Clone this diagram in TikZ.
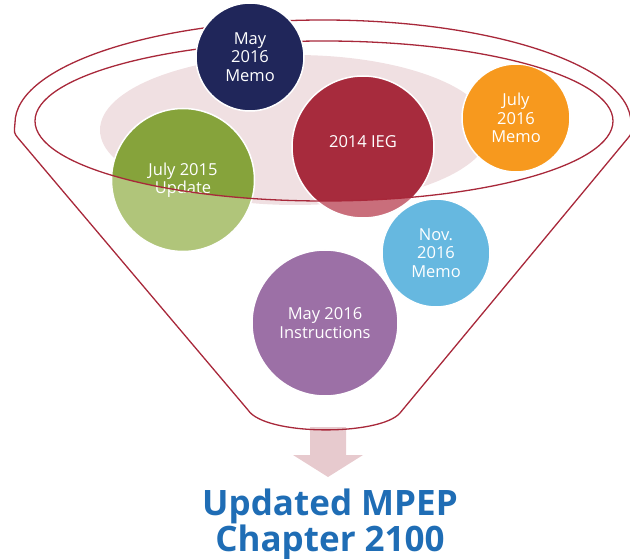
\documentclass[tikz,border=0pt]{standalone}
\usepackage{fontspec}
\setmainfont{Open Sans}
\usetikzlibrary{positioning}
\definecolor{funnelred}{HTML}{A8283A}
\definecolor{memonavy}{HTML}{20265A}
\definecolor{iegred}{HTML}{A72B3D}
\definecolor{iegredlight}{HTML}{C96E7B}
\definecolor{memoorange}{HTML}{F7991E}
\definecolor{updgreen}{HTML}{86A33B}
\definecolor{updgreenlight}{HTML}{B0C57A}
\definecolor{novblue}{HTML}{66B8E0}
\definecolor{instpurple}{HTML}{9C70A6}
\definecolor{blush}{HTML}{F0E0E2}
\definecolor{arrowpink}{HTML}{E7CACE}
\definecolor{titleblue}{HTML}{1F6DB5}
\tikzset{
bubble/.style={circle, draw=white, line width=1.5pt, inner sep=0pt, align=center, text=white, font=\fontsize{16.5}{18.5}\selectfont}, % sets the look of each round item
rim/.style={draw=funnelred, line width=1.3pt}, % the funnel and its ring
inring/.style={path picture={\fill[#1] (ringc) ellipse [x radius=289pt, y radius=80pt];}}, % darker part inside the ring
}

\begin{document}
\begin{tikzpicture}[x=1pt, y=-1pt]
\useasboundingbox (0,0) rectangle (630,559);
\coordinate (ringc) at (324,121);
\fill[blush] (295,130) ellipse [x radius=195, y radius=75];

\node[bubble, fill=updgreenlight, inring=updgreen, minimum size=143] (jul15) at (183,180) {July 2015\\Update};
\node[bubble, fill=iegredlight, inring=iegred, minimum size=142] (ieg) at (363,147) {\raisebox{11pt}{2014 IEG}};
\node[bubble, fill=memoorange, minimum size=108] (jul16) at (516,118) {July\\2016\\Memo};
\node[bubble, fill=novblue, minimum size=108] (nov16) at (436,253) {Nov.\\2016\\Memo};
\node[bubble, fill=instpurple, minimum size=146] (inst) at (325,323) {May 2016\\Instructions};

\fill[arrowpink] (310,427) -- (346,427) -- (346,455) -- (363,455) -- (328,477) -- (293,455) -- (310,455) -- cycle;
\draw[rim] (18,138) .. controls (14,133) .. (15,123) arc [start angle=180, end angle=360, x radius=308, y radius=103] .. controls (632,133) .. (628,138) -- (400,413) .. controls (380,436) and (265,436) .. (248,410) -- cycle;
\draw[rim] (ringc) ellipse [x radius=289, y radius=80];

\node[bubble, fill=memonavy, minimum size=108] (may16) at (250,57) {May\\2016\\Memo};

\node[text=titleblue, align=center, font=\fontsize{35}{36}\selectfont\bfseries] (mpep) at (330,524) {Updated MPEP\\Chapter 2100};
\end{tikzpicture}
\end{document}
